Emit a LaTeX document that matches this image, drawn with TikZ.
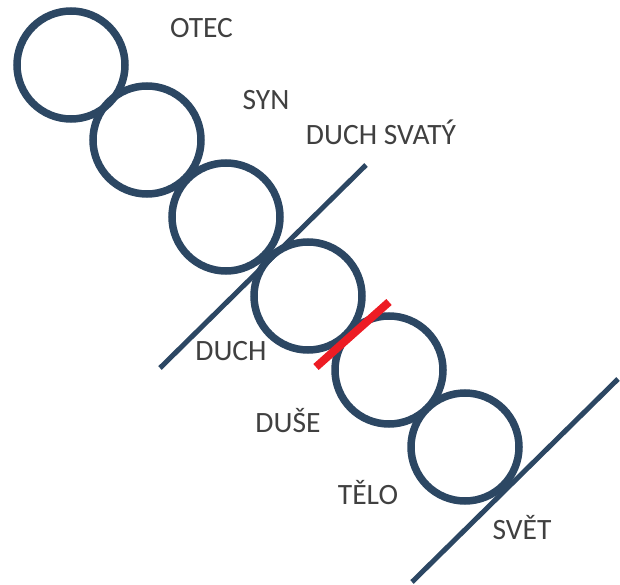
\documentclass[tikz,border=0pt]{standalone}
\usepackage{fontspec}
\setmainfont{Carlito}
\definecolor{ringblue}{HTML}{2C4763}
\definecolor{cutred}{HTML}{ED1C24}
\definecolor{labelgray}{HTML}{404040}
\begin{document}
\begin{tikzpicture}[x=1pt,y=-1pt,
  ring/.style={circle,draw=ringblue,line width=7.5pt,minimum size=108pt,inner sep=0pt},
  divider/.style={draw=ringblue,line width=5pt},
  cut/.style={draw=cutred,line width=8pt},
  lbl/.style={anchor=base,inner sep=0pt,text=labelgray,font=\fontsize{29.5}{32}\selectfont}]
\useasboundingbox (0,0) rectangle (620,585);
\node[ring] (c1) at (71,65) {};
\node[ring] (c2) at (147,140) {};
\node[ring] (c3) at (226,217) {};
\node[ring] (c4) at (308,296) {};
\node[ring] (c5) at (389,370) {};
\node[ring] (c6) at (465,447) {};
\coordinate (a1) at (366,165);
\coordinate (a2) at (160,368);
\coordinate (r1) at (389,302);
\coordinate (r2) at (316,367);
\coordinate (b1) at (618,379);
\coordinate (b2) at (412,582);
\draw[divider] (a1) -- (a2);
\draw[cut] (r1) -- (r2);
\draw[divider] (b1) -- (b2);
\node[lbl] (otec) at (201.5,38) {OTEC};
\node[lbl] (syn) at (266,110) {SYN};
\node[lbl] (dsv) at (381,145) {DUCH SVATÝ};
\node[lbl] (duch) at (231,360) {DUCH};
\node[lbl] (duse) at (288,432) {DUŠE};
\node[lbl] (telo) at (368,504) {TĚLO};
\node[lbl] (svet) at (522,539) {SVĚT};
\end{tikzpicture}
\end{document}
